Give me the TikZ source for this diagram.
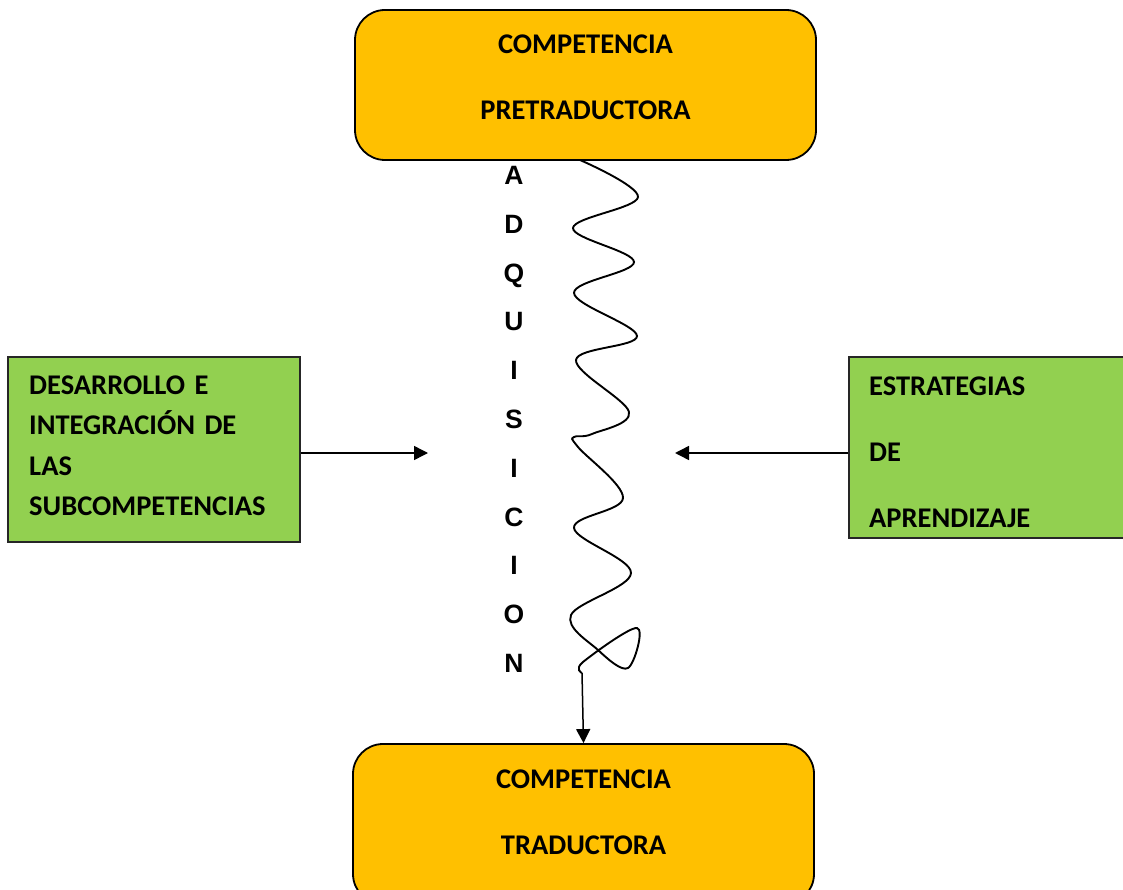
\documentclass[tikz,border=0pt]{standalone}
\usepackage{fontspec}
\setmainfont{Carlito}
\newfontfamily\arialfont{Liberation Sans}
\usetikzlibrary{arrows.meta}
\definecolor{boxorange}{HTML}{FFC000}
\definecolor{boxgreen}{HTML}{92D050}
\begin{document}
\begin{tikzpicture}[x=1pt,y=-1pt,
  obox/.style={draw=black, line width=1.8pt, fill=boxorange, rounded corners=30pt, inner sep=0pt},
  gbox/.style={draw=black!85, line width=1.8pt, fill=boxgreen, inner sep=0pt},
  lbl/.style={inner sep=0pt, font=\fontsize{28.5}{66}\selectfont\bfseries},
  conn/.style={line width=1.5pt, -{Triangle[length=14pt,width=14pt]}},
  wave/.style={line width=1.9pt}]
\useasboundingbox (0,0) rectangle (1123,890);
\clip (0,0) rectangle (1123,890);
% boxes
\node[obox, minimum width=461pt, minimum height=150pt] (top) at (585.5,85) {};
\node[obox, minimum width=461pt, minimum height=160pt] (bot) at (583.5,824) {};
\node[gbox, minimum width=292pt, minimum height=185pt] (left) at (154,449.5) {};
\node[gbox, minimum width=281pt, minimum height=181pt] (right) at (989.5,447.5) {};
% texts
\node[lbl, text width=461pt, align=center, anchor=base] (topt) at (585.5,54) {COMPETENCIA\\PRETRADUCTORA};
\node[lbl, text width=461pt, align=center, anchor=base] (bott) at (583.5,788) {COMPETENCIA\\TRADUCTORA};
\node[lbl, font=\fontsize{28.5}{40.5}\selectfont\bfseries, text width=270pt, align=left, anchor=base west] (leftt) at (29,394) {DESARROLLO E\\INTEGRACIÓN DE\\LAS\\SUBCOMPETENCIAS};
\node[lbl, text width=250pt, align=left, anchor=base west] (rightt) at (869,395) {ESTRATEGIAS\\DE\\APRENDIZAJE};
\node[inner sep=0pt, font=\arialfont\fontsize{26.5}{48.8}\selectfont\bfseries, text width=30pt, align=center, anchor=base] (adq) at (514,184.5) {A\\D\\Q\\U\\I\\S\\I\\C\\I\\O\\N};
% connectors
\coordinate (la) at (428,453);
\coordinate (ra) at (675,453);
\coordinate (wstart) at (580,160);
\coordinate (wend) at (582,673);
\draw[conn] (left.east |- la) -- (la);
\draw[conn] (right.west |- ra) -- (ra);
\draw[wave] plot[smooth, tension=0.6] coordinates {(wstart) (638,197) (573,228) (634,262) (574,293) (637,336) (576,360) (629,412) (592,434) (574,437) (578,447) (623,498) (574,528) (631,573) (571,615) (598,650) (628,668) (637,628) (583,662) (wend)};
\draw[conn] (wend) -- (bot.north);
\end{tikzpicture}
\end{document}
